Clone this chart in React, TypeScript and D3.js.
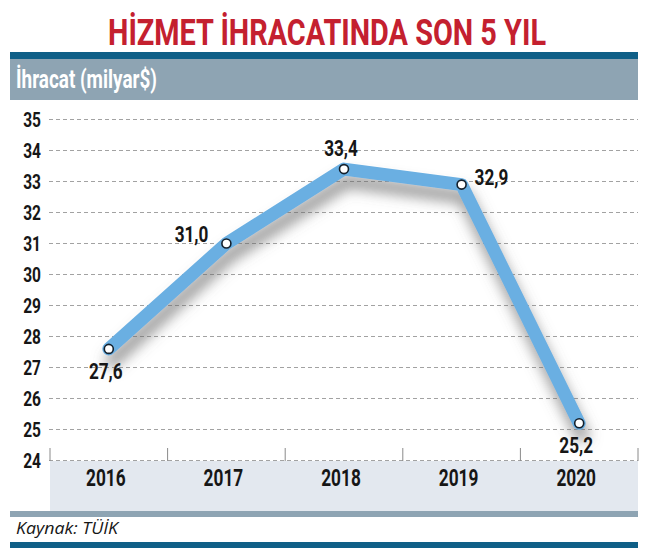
import * as d3 from 'd3'

const YEARS = ['2016', '2017', '2018', '2019', '2020']
const EXPORTS = [27.6, 31.0, 33.4, 32.9, 25.2]
const Y_TICKS = [24, 25, 26, 27, 28, 29, 30, 31, 32, 33, 34, 35]
const LABEL_SIDE = ['below', 'left', 'above', 'right', 'below']

const TITLE = 'HİZMET İHRACATINDA SON 5 YIL'
const UNIT = 'İhracat (milyar$)'
const SOURCE = 'Kaynak: TÜİK'

const W = 647, H = 551
const BLUE = '#0f5f87', SLATE = '#8ea4b3', BAND = '#e3e8ef', LINE = '#6aafe2', INK = '#161616'
const COND = "Roboto, 'DejaVu Sans', sans-serif"

const fmt = (v: number) => d3.format('.1f')(v).replace('.', ',')

// condensed bold text: scale glyphs horizontally
function CText({ x, y, size, sx = 0.76, anchor = 'middle', fill = INK, children }: any) {
  return (
    <g transform={`translate(${x},${y}) scale(${sx},1)`}>
      <text textAnchor={anchor} fontFamily={COND} fontWeight={700} fontSize={size} fill={fill}>{children}</text>
    </g>
  )
}

export default function App() {
  const x = d3.scaleBand<string>().domain(YEARS).range([50, 638])
  const cx = (d: string) => (x(d) ?? 0) + x.bandwidth() / 2
  const y = d3.scaleLinear().domain([24, 35]).range([460.5, 119.5])
  const line = d3.line<number>().x((_, i) => cx(YEARS[i])).y(d => y(d))

  return (
    <svg width={W} height={H} style={{ position: 'absolute', left: 0, top: 0, background: '#fff' }}>
      <defs>
        <filter id="shadow" x="-20%" y="-20%" width="140%" height="170%">
          <feDropShadow dx="3" dy="12" stdDeviation="7" floodColor="#666" floodOpacity="0.7" />
        </filter>
      </defs>

      {/* title */}
      <text x={108} y={45} fontFamily={COND} fontWeight={700} fontSize={36} fill="#c4202f"
        textLength={438} lengthAdjust="spacingAndGlyphs">{TITLE}</text>

      {/* header */}
      <rect x={10} y={52} width={628} height={7} fill={BLUE} />
      <rect x={10} y={59} width={628} height={41} fill={SLATE} />
      <text x={16} y={88} fontFamily={COND} fontWeight={700} fontSize={25} fill="#fff"
        textLength={141} lengthAdjust="spacingAndGlyphs">{UNIT}</text>

      {/* x band */}
      <rect x={50} y={461} width={588} height={50} fill={BAND} />
      <rect x={10} y={511} width={628} height={6} fill={SLATE} />

      {/* grid */}
      {Y_TICKS.map(t => (
        <g key={t}>
          <line x1={49} x2={638} y1={y(t)} y2={y(t)} stroke="#8a8a8a" strokeWidth={0.8} strokeDasharray="4,3" />
          <CText x={41} y={y(t) + 7.5} size={21} sx={0.74} anchor="end">{t}</CText>
        </g>
      ))}
      {[...YEARS.map(d => x(d) ?? 0), 638].map((v, i) => (
        <line key={i} x1={v} x2={v} y1={448} y2={461} stroke="#8a8a8a" strokeWidth={1} />
      ))}
      {YEARS.map(d => (
        <CText key={d} x={cx(d) - 3} y={486} size={24} sx={0.72}>{d}</CText>
      ))}

      {/* series */}
      <path d={line(EXPORTS) ?? ''} fill="none" stroke={LINE} strokeWidth={13}
        strokeLinejoin="round" strokeLinecap="round" filter="url(#shadow)" />
      {EXPORTS.map((v, i) => (
        <circle key={i} cx={cx(YEARS[i])} cy={y(v)} r={4.5} fill="#fff" stroke="#14202c" strokeWidth={1.6} />
      ))}
      {EXPORTS.map((v, i) => {
        const px = cx(YEARS[i]), py = y(v), side = LABEL_SIDE[i]
        if (side === 'below') return <CText key={i} x={px - 3} y={py + 30} size={22} sx={0.78}>{fmt(v)}</CText>
        if (side === 'above') return <CText key={i} x={px - 3} y={py - 13} size={22} sx={0.78}>{fmt(v)}</CText>
        if (side === 'left') return <CText key={i} x={px - 18} y={py - 2} size={22} sx={0.78} anchor="end">{fmt(v)}</CText>
        return <CText key={i} x={px + 13} y={py} size={22} sx={0.78} anchor="start">{fmt(v)}</CText>
      })}

      {/* footer */}
      <text x={16} y={534} fontFamily="'Open Sans', sans-serif" fontStyle="italic" fontSize={16.5} fill={INK}
        textLength={102} lengthAdjust="spacingAndGlyphs">{SOURCE}</text>
      <rect x={10} y={542} width={628} height={6} fill={BLUE} />
    </svg>
  )
}
